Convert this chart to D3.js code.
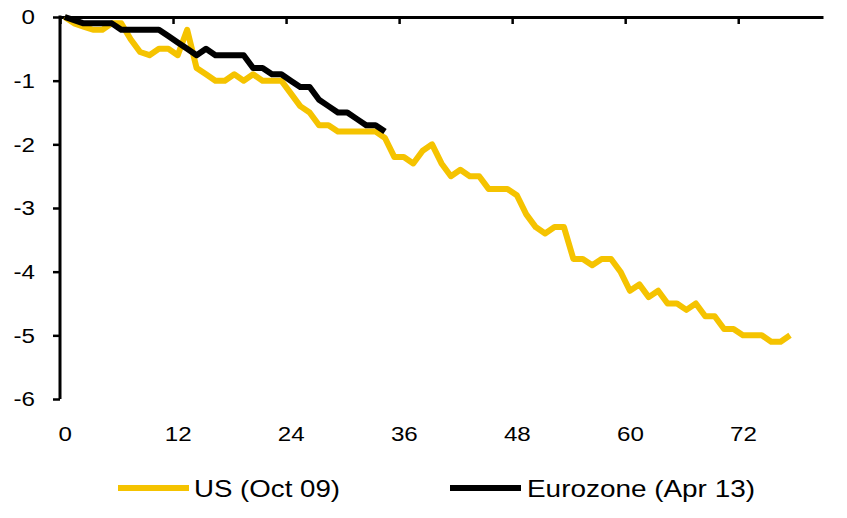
<!DOCTYPE html>
<html>
<head>
<meta charset="utf-8">
<script src="https://cdn.jsdelivr.net/npm/d3@7"></script>
<style>
  body { margin: 0; background: #fff; }
  text { font-family: "Liberation Sans", Arial, sans-serif; }
</style>
</head>
<body>
<script>
// months since start of downturn (index = month)
let usValues = [0, -0.1, -0.15, -0.2, -0.2, -0.1, -0.1, -0.35, -0.55, -0.6,
    -0.5, -0.5, -0.6, -0.2, -0.8, -0.9, -1.0, -1.0, -0.9, -1.0,
    -0.9, -1.0, -1.0, -1.0, -1.2, -1.4, -1.5, -1.7, -1.7, -1.8,
    -1.8, -1.8, -1.8, -1.8, -1.9, -2.2, -2.2, -2.3, -2.1, -2.0,
    -2.3, -2.5, -2.4, -2.5, -2.5, -2.7, -2.7, -2.7, -2.8, -3.1,
    -3.3, -3.4, -3.3, -3.3, -3.8, -3.8, -3.9, -3.8, -3.8, -4.0,
    -4.3, -4.2, -4.4, -4.3, -4.5, -4.5, -4.6, -4.5, -4.7, -4.7,
    -4.9, -4.9, -5.0, -5.0, -5.0, -5.1, -5.1, -5.0];

let ezValues = [0, -0.05, -0.1, -0.1, -0.1, -0.1, -0.2, -0.2, -0.2, -0.2,
    -0.2, -0.3, -0.4, -0.5, -0.6, -0.5, -0.6, -0.6, -0.6, -0.6,
    -0.8, -0.8, -0.9, -0.9, -1.0, -1.1, -1.1, -1.3, -1.4, -1.5,
    -1.5, -1.6, -1.7, -1.7, -1.8];

let seriesNames = ['US (Oct 09)', 'Eurozone (Apr 13)'];
let seriesColors = ['#F5C300', '#000000'];

let xTickLabels = [0, 12, 24, 36, 48, 60, 72];
let yTicks = [0, -1, -2, -3, -4, -5, -6];

let width = 847;
let height = 518;

let x = d3.scaleLinear()
    .domain([-0.5, 80.5])
    .range([60, 823]);

let y = d3.scaleLinear()
    .domain([-6, 0])
    .range([399, 17]);

let svg = d3.select('body')
    .append('svg')
    .attr('width', width)
    .attr('height', height);

// y axis
let yAxis = d3.axisLeft(y)
    .tickValues(yTicks)
    .tickFormat(d => String(d))
    .tickSize(7)
    .tickPadding(18);

let gy = svg.append('g')
    .attr('transform', 'translate(' + x(-0.5) + ',0)')
    .call(yAxis);
gy.select('.domain').remove();
gy.selectAll('line').attr('stroke', '#000').attr('stroke-width', 2.5);
gy.selectAll('text')
    .attr('font-size', 21)
    .attr('fill', '#000')
    .attr('transform', 'scale(1.15,1)')
    .attr('x', -25 / 1.15);
gy.append('line')
    .attr('x1', 0).attr('x2', 0)
    .attr('y1', y(0) - 1.5).attr('y2', y(-6))
    .attr('stroke', '#000').attr('stroke-width', 3);

// x axis line at zero, tick marks between categories
let xAxis = d3.axisBottom(x)
    .tickValues(xTickLabels.map(d => d - 0.5))
    .tickFormat('')
    .tickSizeOuter(0)
    .tickSizeInner(7);

let gx = svg.append('g')
    .attr('transform', 'translate(0,' + y(0) + ')')
    .call(xAxis);
gx.select('.domain').attr('stroke-width', 3);
gx.selectAll('line').attr('stroke-width', 2.5);

// x labels at the bottom
let xLabelAxis = d3.axisBottom(x)
    .tickValues(xTickLabels)
    .tickFormat(d => String(d))
    .tickSize(0)
    .tickPadding(0);

let gxl = svg.append('g')
    .attr('transform', 'translate(0,426)')
    .call(xLabelAxis);
gxl.select('.domain').remove();
gxl.selectAll('.tick text')
    .attr('font-size', 21)
    .attr('fill', '#000')
    .attr('transform', 'scale(1.15,1)');

let line = d3.line()
    .x((d, i) => x(i))
    .y(d => y(d));

svg.append('path')
    .datum(usValues)
    .attr('fill', 'none')
    .attr('stroke', seriesColors[0])
    .attr('stroke-width', 6)
    .attr('stroke-linejoin', 'round')
    .attr('d', line);

svg.append('path')
    .datum(ezValues)
    .attr('fill', 'none')
    .attr('stroke', seriesColors[1])
    .attr('stroke-width', 6)
    .attr('stroke-linejoin', 'round')
    .attr('d', line);

// legend
let legendX = [118, 450];
let legend = svg.selectAll('.legend')
    .data(seriesNames)
    .enter()
        .append('g')
        .attr('class', 'legend')
        .attr('transform', (d, i) => 'translate(' + legendX[i] + ',488)');

legend.append('line')
    .attr('x1', 0).attr('x2', 71)
    .attr('y1', 0).attr('y2', 0)
    .attr('stroke', (d, i) => seriesColors[i])
    .attr('stroke-width', 6);

legend.append('text')
    .attr('x', (d, i) => i == 0 ? 76 : 77)
    .attr('y', 9)
    .attr('font-size', 24)
    .attr('fill', '#000')
    .attr('textLength', (d, i) => i == 0 ? 146 : 228)
    .attr('lengthAdjust', 'spacingAndGlyphs')
    .text(d => d);
</script>
</body>
</html>
